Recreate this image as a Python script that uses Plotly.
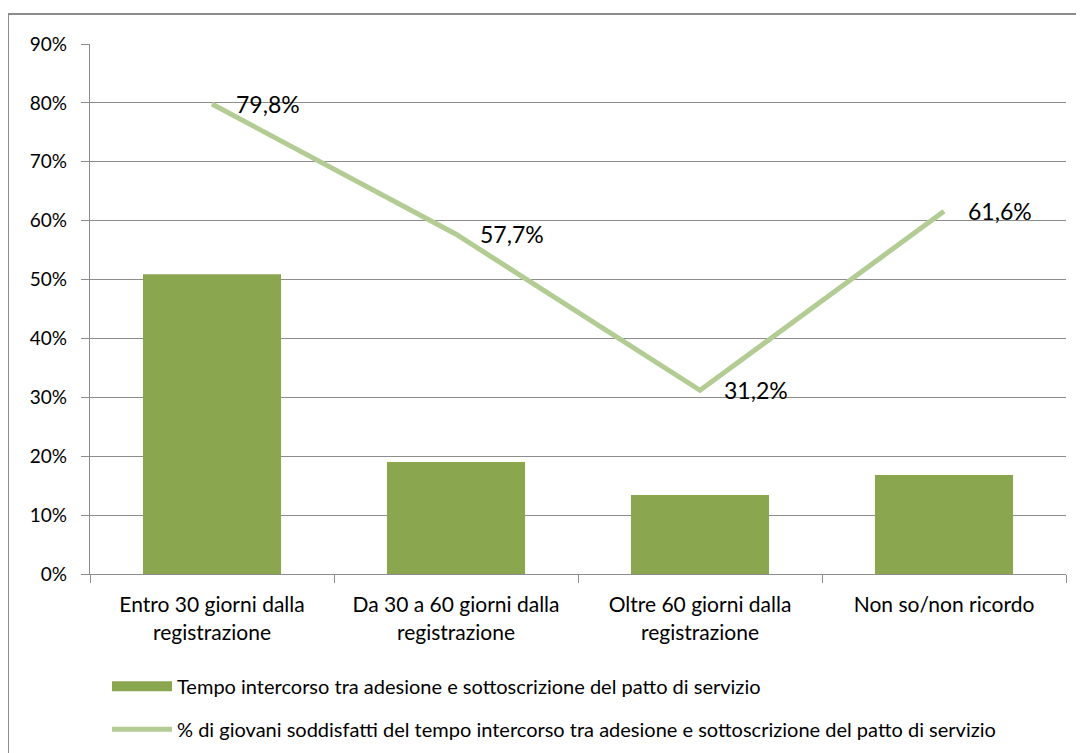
import plotly.graph_objects as go

categories = ['Entro 30 giorni dalla<br>registrazione', 'Da 30 a 60 giorni dalla<br>registrazione',
              'Oltre 60 giorni dalla<br>registrazione', 'Non so/non ricordo']
tempo = [0.509, 0.190, 0.134, 0.168]
soddisfatti = [0.798, 0.577, 0.312, 0.616]
y_ticks = [0, 0.1, 0.2, 0.3, 0.4, 0.5, 0.6, 0.7, 0.8, 0.9]

bar_name = 'Tempo intercorso tra adesione e sottoscrizione del patto di servizio'
line_name = '% di giovani soddisfatti del tempo intercorso tra adesione e sottoscrizione del patto di servizio'

font = 'Lato'
grid = '#8c8c8c'
bar_col = '#8aa64f'
line_col = '#b3cc94'

fig = go.Figure()
fig.add_trace(go.Bar(x=categories, y=tempo, name=bar_name, marker=dict(color=bar_col, line=dict(width=0)),
                     showlegend=False, hoverinfo='y'))
fig.add_trace(go.Scatter(x=categories, y=soddisfatti, name=line_name, mode='lines',
                         line=dict(color=line_col, width=5), legendgroup='b'))
# wide rectangle swatch for the bar series, like the original legend
fig.add_trace(go.Scatter(x=[None], y=[None], name=bar_name, mode='lines',
                         line=dict(color=bar_col, width=12), legendgroup='a', legendrank=1))

for c, v in zip(categories, soddisfatti):
    fig.add_annotation(x=c, y=v, text=f'{v*100:.1f}%'.replace('.', ','), showarrow=False,
                       xanchor='left', yanchor='middle', xshift=22,
                       font=dict(family=font, size=23, color='#000000'))

# outer chart frame (page has 8px body margin)
fig.add_shape(type='rect', xref='paper', yref='paper', x0=-82/976, x1=1.2,
              y0=-0.5, y1=(566-6)/530, line=dict(color='#8c8c8c', width=2), layer='below')

fig.update_layout(
    width=1084, height=753,
    margin=dict(l=82, r=26, t=36, b=187),
    plot_bgcolor='white', paper_bgcolor='white',
    font=dict(family=font, size=19, color='#000000'),
    bargap=0.434,
    showlegend=True,
    legend=dict(orientation='v', x=(107-90)/976, xanchor='left', y=-0.175, yanchor='top',
                font=dict(family=font, size=20), tracegroupgap=14, traceorder='grouped',
                itemwidth=60, bgcolor='rgba(0,0,0,0)'),
)
fig.update_yaxes(range=[0, 0.9], tickvals=y_ticks, tickformat='.0%', showgrid=True, gridcolor=grid,
                 gridwidth=1.3, showline=True, linecolor=grid, linewidth=1.3, ticks='outside',
                 ticklen=8, tickcolor=grid, zeroline=False, ticklabelstandoff=10)
fig.update_xaxes(showline=True, linecolor=grid, linewidth=1.3, ticks='outside', tickson='boundaries',
                 ticklen=8, tickcolor=grid, showgrid=False, tickfont=dict(size=21), ticklabelstandoff=12)

fig.write_html('out.html')
